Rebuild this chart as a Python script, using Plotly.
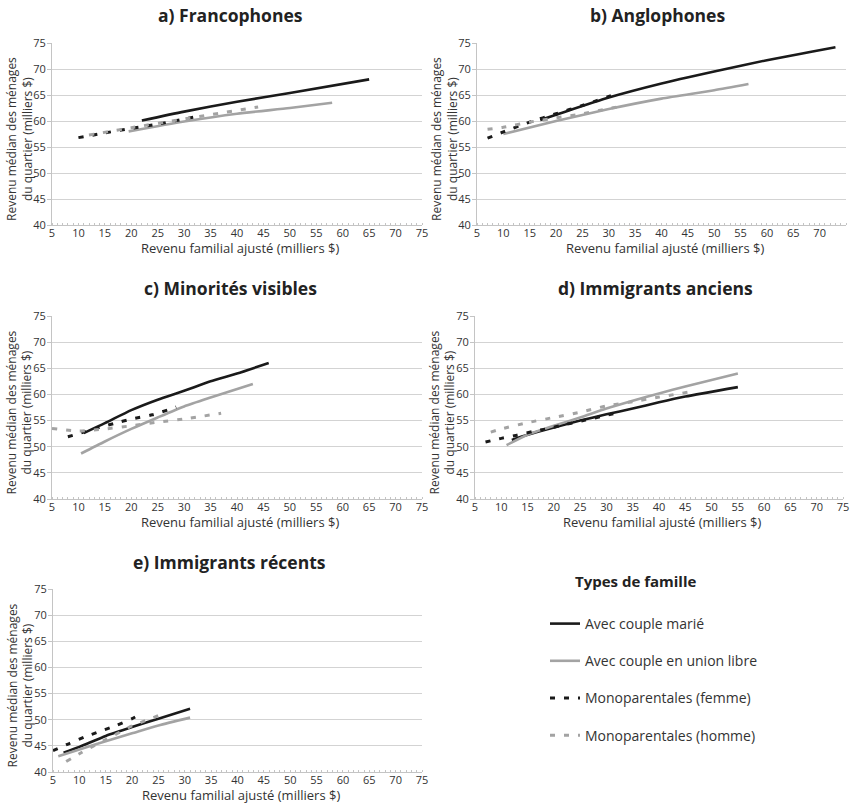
import plotly.graph_objects as go

W, H = 851, 807

PANEL_TITLES = ["a) Francophones", "b) Anglophones", "c) Minorités visibles",
                "d) Immigrants anciens", "e) Immigrants récents"]
SERIES_NAMES = ["Avec couple marié", "Avec couple en union libre",
                "Monoparentales (femme)", "Monoparentales (homme)"]
X_TICKS = [5, 10, 15, 20, 25, 30, 35, 40, 45, 50, 55, 60, 65, 70, 75]
Y_TICKS = [40, 45, 50, 55, 60, 65, 70, 75]

# a) Francophones
A_MARIE_X = [22, 30, 40, 50, 65]
A_MARIE_Y = [60.1, 61.8, 63.7, 65.4, 68.0]
A_UNION_X = [19.5, 30, 40, 50, 58]
A_UNION_Y = [58.0, 59.9, 61.4, 62.5, 63.5]
A_FEMME_X = [10, 15, 20, 25, 33]
A_FEMME_Y = [56.8, 57.7, 58.6, 59.4, 61.0]
A_HOMME_X = [12, 20, 30, 44]
A_HOMME_Y = [57.3, 58.7, 60.4, 62.7]

# b) Anglophones
B_MARIE_X = [17, 20, 30, 40, 50, 60, 73]
B_MARIE_Y = [60.2, 61.2, 64.5, 67.2, 69.5, 71.7, 74.2]
B_UNION_X = [10, 20, 30, 40, 50, 56.5]
B_UNION_Y = [57.5, 60.0, 62.3, 64.3, 65.9, 67.1]
B_FEMME_X = [7, 10, 15, 20, 25, 32]
B_FEMME_Y = [56.7, 57.9, 59.8, 61.4, 63.0, 65.4]
B_HOMME_X = [7, 10, 15, 20, 25, 30, 33]
B_HOMME_Y = [58.4, 58.8, 59.8, 60.6, 61.4, 62.4, 62.9]

# c) Minorités visibles
C_MARIE_X = [11, 15, 20, 25, 30, 35, 40, 46]
C_MARIE_Y = [52.6, 54.5, 57.0, 59.0, 60.7, 62.5, 64.0, 66.0]
C_UNION_X = [10.5, 15, 20, 25, 30, 35, 43]
C_UNION_Y = [48.7, 51.0, 53.4, 55.6, 57.7, 59.4, 62.0]
C_FEMME_X = [8, 11, 14, 17, 20, 24, 28.5]
C_FEMME_Y = [51.9, 52.8, 53.7, 54.5, 55.3, 56.1, 57.6]
C_HOMME_X = [5, 10, 15, 20, 25, 30, 37]
C_HOMME_Y = [53.5, 53.0, 53.4, 54.0, 54.7, 55.3, 56.4]

# d) Immigrants anciens
D_MARIE_X = [12, 15, 20, 25, 30, 35, 40, 45, 55]
D_MARIE_Y = [51.3, 52.3, 53.7, 55.0, 56.2, 57.3, 58.5, 59.6, 61.4]
D_UNION_X = [11, 15, 20, 25, 30, 35, 40, 45, 55]
D_UNION_Y = [50.3, 52.3, 54.0, 55.6, 57.3, 58.8, 60.2, 61.5, 64.0]
D_FEMME_X = [7, 10, 13, 16, 19, 22, 26, 30, 33]
D_FEMME_Y = [50.9, 51.6, 52.2, 52.9, 53.5, 54.2, 55.1, 56.0, 56.7]
D_HOMME_X = [8, 10, 15, 20, 25, 30, 35, 40, 46]
D_HOMME_Y = [52.8, 53.4, 54.6, 55.6, 56.6, 57.8, 58.6, 59.5, 60.5]

# e) Immigrants récents
E_MARIE_X = [7, 10, 15, 20, 25, 31]
E_MARIE_Y = [43.7, 44.8, 46.9, 48.6, 50.2, 52.1]
E_UNION_X = [6, 10, 15, 20, 25, 31]
E_UNION_Y = [43.0, 44.3, 45.9, 47.4, 48.9, 50.4]
E_FEMME_X = [5, 8, 11, 14, 17, 20, 22]
E_FEMME_Y = [44.1, 45.4, 46.7, 47.8, 48.9, 50.2, 51.3]
E_HOMME_X = [7.5, 10, 15, 20, 24, 26.5]
E_HOMME_Y = [42.0, 43.5, 46.2, 48.8, 50.4, 51.4]

PANELS = [
    [(A_MARIE_X, A_MARIE_Y), (A_UNION_X, A_UNION_Y), (A_FEMME_X, A_FEMME_Y), (A_HOMME_X, A_HOMME_Y)],
    [(B_MARIE_X, B_MARIE_Y), (B_UNION_X, B_UNION_Y), (B_FEMME_X, B_FEMME_Y), (B_HOMME_X, B_HOMME_Y)],
    [(C_MARIE_X, C_MARIE_Y), (C_UNION_X, C_UNION_Y), (C_FEMME_X, C_FEMME_Y), (C_HOMME_X, C_HOMME_Y)],
    [(D_MARIE_X, D_MARIE_Y), (D_UNION_X, D_UNION_Y), (D_FEMME_X, D_FEMME_Y), (D_HOMME_X, D_HOMME_Y)],
    [(E_MARIE_X, E_MARIE_Y), (E_UNION_X, E_UNION_Y), (E_FEMME_X, E_FEMME_Y), (E_HOMME_X, E_HOMME_Y)],
]

BLACK = "#1a1a1a"
GREY = "#a3a3a3"
STYLES = [
    dict(color=BLACK, width=2.6, dash="solid"),
    dict(color=GREY, width=2.6, dash="solid"),
    dict(color=BLACK, width=3, dash="5px,9px"),
    dict(color=GREY, width=3, dash="5px,9px"),
]

# pixel boxes of plot areas: (x0, x1, ytop, ybottom)
BOXES = [
    (52, 422, 43, 225),
    (477, 846, 43, 225),
    (52, 422, 316, 499),
    (475, 843, 316, 499),
    (53, 422, 589, 772),
]
TITLE_POS = [(230, 15), (657, 15), (230, 288), (655, 288), (229, 562)]

FONT = "Open Sans"

fig = go.Figure()
annotations = []

for i, (series, box) in enumerate(zip(PANELS, BOXES)):
    sfx = "" if i == 0 else str(i + 1)
    for j, (xs, ys) in enumerate(series):
        fig.add_trace(go.Scatter(
            x=xs, y=ys, mode="lines", name=SERIES_NAMES[j],
            line=dict(shape="spline", smoothing=0.6, **STYLES[j]),
            xaxis="x" + sfx, yaxis="y" + sfx,
            showlegend=(i == 0), legendgroup=f"g{j}",
        ))
    x0, x1, yt, yb = box
    fig.layout["xaxis" + sfx] = dict(
        domain=[x0 / W, x1 / W], anchor="y" + sfx, range=[5, 75],
        tickvals=X_TICKS, ticks="", showgrid=False, zeroline=False,
        showline=True, linecolor="#c4c4c4", linewidth=1,
        minor=dict(dtick=1, ticks="inside", ticklen=2, tickcolor="#c4c4c4", showgrid=False),
        tickfont=dict(family=FONT, size=11, color="#333"),
        ticklabelstandoff=-2,
    )
    fig.layout["yaxis" + sfx] = dict(
        domain=[1 - yb / H, 1 - yt / H], anchor="x" + sfx, range=[40, 75],
        tickvals=Y_TICKS, ticks="outside", ticklen=4, tickcolor="#c4c4c4",
        showgrid=True, gridcolor="#d3d3d3", gridwidth=1, zeroline=False,
        showline=True, linecolor="#c4c4c4", linewidth=1,
        tickfont=dict(family=FONT, size=11, color="#333"),
        ticklabelstandoff=-1,
    )
    tx, ty = TITLE_POS[i]
    annotations.append(dict(
        text="<b>" + PANEL_TITLES[i] + "</b>", x=tx / W, y=1 - ty / H,
        xref="paper", yref="paper", showarrow=False, xanchor="center", yanchor="middle",
        font=dict(family=FONT, size=17.5, color="#222"),
    ))
    annotations.append(dict(
        text="Revenu familial ajusté (milliers $)", x=(x0 + x1) / 2 / W + 0.004,
        y=1 - (yb + 23) / H, xref="paper", yref="paper", showarrow=False,
        xanchor="center", yanchor="middle",
        font=dict(family=FONT, size=13, color="#333"),
    ))
    annotations.append(dict(
        text="Revenu médian des ménages<br>du quartier (milliers $)",
        x=(x0 - 33) / W, y=1 - ((yt + yb) / 2 + 5) / H, xref="paper", yref="paper",
        showarrow=False, textangle=-90, xanchor="center", yanchor="middle",
        font=dict(family=FONT, size=12, color="#333"),
    ))

annotations.append(dict(
    text="<b>Types de famille</b>", x=636 / W, y=1 - 581 / H, xref="paper", yref="paper",
    showarrow=False, xanchor="center", yanchor="middle",
    font=dict(family=FONT, size=15, color="#222"),
))

fig.update_layout(
    width=W, height=H, margin=dict(l=0, r=0, t=0, b=0, autoexpand=False),
    paper_bgcolor="white", plot_bgcolor="white",
    annotations=annotations,
    legend=dict(
        x=545 / W, y=1 - 608 / H, xanchor="left", yanchor="top",
        font=dict(family=FONT, size=14, color="#333"),
        tracegroupgap=16, itemwidth=30, bgcolor="rgba(0,0,0,0)",
    ),
    font=dict(family=FONT),
)

fig.write_html(
    "out.html",
    config={"displayModeBar": False},
    post_script="document.body.style.margin='0';document.body.style.overflow='hidden';",
)
